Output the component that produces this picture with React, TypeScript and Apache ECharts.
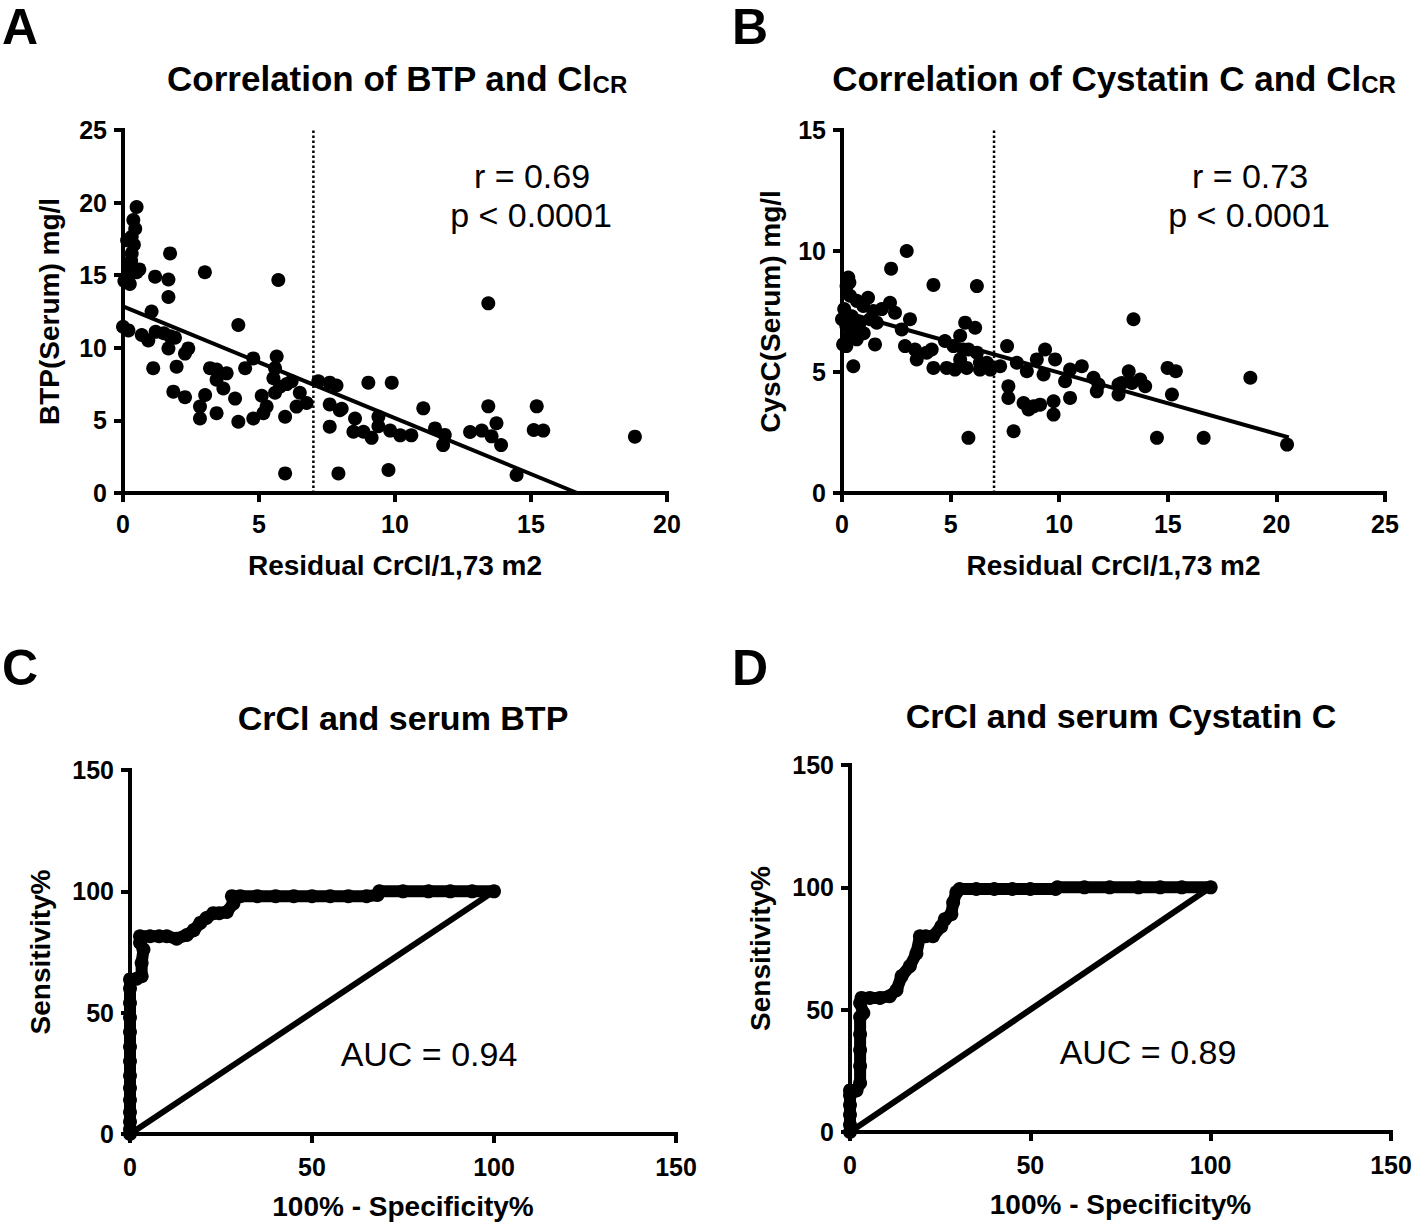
import React, { useEffect, useRef } from "react";
import * as echarts from "echarts";

const FONT = "'Liberation Sans', Arial, Helvetica, sans-serif";
const NARROW = "'Liberation Sans Narrow', 'Liberation Sans', Arial, sans-serif";

// Panel A: BTP (serum) vs residual CrCl
const btpPoints: number[][] = [
  [0.5, 19.7], [0.38, 18.8], [0.45, 18.2], [0.32, 17.65], [0.4, 17.1], [0.32, 16.5], [0.3, 16.0],
  [0.28, 15.6], [0.5, 15.2], [0.2, 15.0], [0.25, 14.4], [0.05, 14.6], [0.6, 15.4], [0.15, 17.4],
  [0.0, 11.45], [0.2, 11.2],
  [1.73, 16.5], [3.01, 15.2], [5.71, 14.67], [1.18, 14.9], [1.67, 14.7], [1.67, 13.5], [1.05, 12.5],
  [4.24, 11.57], [0.69, 10.88], [0.93, 10.5], [1.2, 11.1], [1.5, 11.0], [1.73, 10.8], [1.91, 10.7],
  [1.67, 9.96], [2.4, 9.96], [2.28, 9.6], [1.11, 8.6], [1.97, 8.7], [3.2, 8.6], [3.44, 8.5],
  [3.81, 8.24], [3.44, 7.8], [3.69, 7.2], [1.85, 6.98], [2.28, 6.6], [3.02, 6.75], [4.12, 6.5],
  [2.83, 5.95], [2.83, 5.13], [3.44, 5.5], [4.24, 4.91], [4.49, 8.6], [4.79, 9.27], [4.79, 5.13],
  [5.16, 5.5], [5.1, 6.7], [5.28, 5.95], [5.65, 9.4], [5.59, 8.6], [5.53, 7.9], [5.77, 7.32],
  [6.02, 7.5], [6.2, 7.7], [5.59, 6.9], [5.96, 5.25], [6.38, 5.95], [6.5, 6.9], [6.75, 6.2],
  [5.96, 1.35], [7.18, 7.7], [7.6, 7.6], [7.85, 7.4], [7.6, 6.1], [7.6, 4.57], [8.04, 5.8],
  [7.97, 5.7], [7.92, 1.35], [9.02, 7.6], [9.88, 7.6], [8.53, 5.13], [8.47, 4.22], [8.84, 4.22],
  [9.14, 3.8], [9.39, 5.25], [9.39, 4.6], [9.82, 4.3], [9.76, 1.58], [10.19, 3.97], [10.6, 3.97],
  [11.04, 5.83], [11.47, 4.45], [11.83, 4.0], [11.77, 3.3], [12.76, 4.2], [13.19, 4.3], [13.55, 3.9],
  [13.9, 3.3], [14.47, 1.24], [13.43, 13.06], [13.43, 5.97], [13.73, 4.8], [15.21, 5.97], [15.1, 4.34],
  [15.45, 4.3], [18.82, 3.88],
];
const btpFit: number[][] = [[0, 12.85], [16.7, 0]];

// Panel B: Cystatin C (serum) vs residual CrCl
const cysPoints: number[][] = [
  [2.98, 10.0], [2.26, 9.27], [4.21, 8.6], [6.21, 8.55], [0.29, 8.9], [0.21, 8.55], [0.34, 8.7],
  [1.2, 8.07], [2.21, 7.86], [2.44, 7.45], [0.68, 7.94], [0.37, 8.15], [0.98, 7.73], [1.44, 7.52],
  [1.83, 7.6], [3.13, 7.18], [0.0, 7.18], [0.2, 6.9], [0.52, 6.62], [0.68, 6.35], [0.05, 6.14],
  [0.2, 6.07], [1.52, 6.14], [0.52, 5.24], [1.29, 7.18], [1.6, 7.04], [0.1, 7.6], [0.45, 7.3],
  [0.8, 7.0], [1.0, 6.6], [0.3, 6.4], [2.75, 6.76], [2.9, 6.07], [3.36, 5.93], [3.44, 5.52],
  [3.9, 5.8], [4.13, 5.93], [4.21, 5.17], [4.82, 5.17], [5.2, 5.1], [4.74, 6.28], [5.13, 6.07],
  [5.44, 6.5], [5.67, 7.04], [6.13, 6.83], [5.59, 5.93], [5.44, 5.52], [5.82, 5.93], [5.74, 5.17],
  [6.35, 5.1], [6.35, 5.38], [6.21, 5.8], [6.67, 5.38], [6.83, 5.1], [5.82, 2.28], [7.28, 5.24],
  [7.6, 6.07], [7.66, 4.41], [7.66, 3.93], [7.9, 2.55], [8.05, 5.38], [8.51, 5.03], [8.36, 3.72],
  [8.59, 3.45], [8.82, 3.58], [9.12, 3.65], [8.97, 5.52], [9.35, 5.93], [9.81, 5.52], [9.28, 4.9],
  [9.74, 3.79], [9.74, 3.24], [10.27, 4.62], [10.5, 3.93], [10.5, 5.1], [11.04, 5.24], [11.58, 4.76],
  [11.81, 4.48], [11.73, 4.2], [12.73, 4.48], [12.73, 4.07], [13.42, 7.18], [13.2, 5.03], [12.89, 4.55],
  [13.35, 4.55], [13.73, 4.69], [13.96, 4.41], [14.99, 5.17], [15.37, 5.03], [15.19, 4.07], [14.5, 2.28],
  [16.65, 2.28], [18.8, 4.76], [20.49, 2.0],
];
const cysFit: number[][] = [[0, 7.5], [20.57, 2.3]];

const cutoffCrCl = 7;

// Panel C: ROC, CrCl and serum BTP
const rocBtp: number[][] = [
  [0, 0], [0, 2], [0, 5], [0, 9], [0, 14], [0, 19], [0, 24], [0, 30], [0, 36], [0, 42], [0, 48],
  [0, 54], [0, 60], [0, 63.7], [1.8, 64], [3.2, 65], [3.2, 70.5], [3.7, 76], [2.75, 78.8], [2.75, 81.5],
  [5.5, 81.5], [8, 81.5], [10.1, 81.5], [12.8, 80.5], [15.6, 82], [17.5, 84], [19.3, 87], [21, 89],
  [22.9, 91], [24.5, 91], [26.6, 91.5], [28.4, 95], [28, 98], [30.3, 98], [35, 98], [40, 98], [45, 98],
  [50, 98], [55, 98], [60, 98], [65, 98], [68, 98.5], [68.5, 100], [75, 100], [82, 100], [88, 100],
  [94, 100], [100, 100],
];

// Panel D: ROC, CrCl and serum Cystatin C
const rocCys: number[][] = [
  [0, 0], [0, 3], [0, 7], [0, 11], [0, 15], [0, 17], [1.8, 17], [2.8, 20], [2.8, 27], [2.8, 33.5],
  [2.8, 40], [2.8, 47], [3.7, 48.6], [2.8, 52.7], [3.2, 54.8], [5.5, 54.8], [8.3, 54.8], [11, 55.5],
  [12.9, 58], [14.3, 63.7], [16.6, 67.8], [18.4, 73], [19.4, 80], [21, 80], [23, 80], [25.3, 84],
  [26.3, 87], [28.1, 89], [28.6, 93.8], [29.5, 98], [30.4, 99.3], [35, 99.3], [40, 99.3], [45, 99.3],
  [50, 99.3], [57, 99.3], [57.5, 100], [65, 100], [72, 100], [80, 100], [86, 100], [92, 100], [100, 100],
];
const diagonal: number[][] = [[0, 0], [100, 100]];

const scatterXTicks = { A: [0, 20, 5], B: [0, 25, 5] };
const scatterYTicks = { A: [0, 25, 5], B: [0, 15, 5] };
const rocTicks = [0, 150, 50];

const labelsText = {
  A: "A", B: "B", C: "C", D: "D",
  crclAxis: "Residual CrCl/1,73 m2",
  btpAxis: "BTP(Serum) mg/l",
  cysAxis: "CysC(Serum) mg/l",
  sensAxis: "Sensitivity%",
  specAxis: "100% - Specificity%",
};

const axisBase = (gridIndex: number, range: number[], name: string, nameGap: number, margin: number, isY: boolean) => ({
  gridIndex,
  type: "value",
  min: range[0],
  max: range[1],
  interval: range[2],
  name,
  nameLocation: "middle",
  nameGap,
  nameTextStyle: { color: "#000", fontSize: 28, fontWeight: "bold", fontFamily: FONT },
  axisLine: { show: true, onZero: false, lineStyle: { color: "#000", width: 4, cap: "square" } },
  axisTick: { show: true, length: 9, lineStyle: { color: "#000", width: 4 } },
  axisLabel: { color: "#000", fontSize: 25, fontWeight: "bold", fontFamily: FONT, margin },
  splitLine: { show: false },
  nameRotate: isY ? 90 : 0,
});

export default function App() {
  const ref = useRef<HTMLDivElement>(null);
  useEffect(() => {
    document.body.style.margin = "0";
    const chart = echarts.init(ref.current!, null, { renderer: "svg" });
    const black = "#000";
    const txt = (x: number, y: number, text: string, size: number, weight: string, align: string, family = FONT) => ({
      type: "text",
      x,
      y,
      style: { text, fill: black, fontSize: size, fontWeight: weight, fontFamily: family, textAlign: align, textVerticalAlign: "middle" },
    });
    const richTitle = (x: number, y: number, main: string) => ({
      type: "text",
      x,
      y,
      style: {
        text: `{a|${main}}{b|CR}`,
        fill: black,
        textAlign: "center",
        textVerticalAlign: "middle",
        rich: {
          a: { fontSize: 35, fontWeight: "bold", fontFamily: FONT, fill: black, lineHeight: 40, verticalAlign: "bottom" },
          b: { fontSize: 24, fontWeight: "bold", fontFamily: FONT, fill: black, lineHeight: 33, verticalAlign: "bottom" },
        },
      },
    });

    const option: any = {
      animation: false,
      backgroundColor: "#fff",
      grid: [
        { left: 123, top: 130, width: 544, height: 363 },
        { left: 842, top: 130, width: 543, height: 363 },
        { left: 130, top: 770, width: 546, height: 364 },
        { left: 850, top: 765, width: 541, height: 367 },
      ],
      xAxis: [
        axisBase(0, scatterXTicks.A, labelsText.crclAxis, 58, 18, false),
        axisBase(1, scatterXTicks.B, labelsText.crclAxis, 58, 18, false),
        axisBase(2, rocTicks, labelsText.specAxis, 58, 20, false),
        axisBase(3, rocTicks, labelsText.specAxis, 58, 20, false),
      ],
      yAxis: [
        axisBase(0, scatterYTicks.A, labelsText.btpAxis, 60, 16, true),
        axisBase(1, scatterYTicks.B, labelsText.cysAxis, 58, 16, true),
        axisBase(2, rocTicks, labelsText.sensAxis, 76, 16, true),
        axisBase(3, rocTicks, labelsText.sensAxis, 76, 16, true),
      ],
      series: [
        {
          type: "line", xAxisIndex: 0, yAxisIndex: 0, showSymbol: false,
          data: [[cutoffCrCl, scatterYTicks.A[0]], [cutoffCrCl, scatterYTicks.A[1]]],
          lineStyle: { color: black, width: 2.5, type: [2.5, 2.5] },
        },
        {
          type: "line", xAxisIndex: 0, yAxisIndex: 0, showSymbol: false, data: btpFit,
          lineStyle: { color: black, width: 4 },
        },
        {
          type: "scatter", xAxisIndex: 0, yAxisIndex: 0, data: btpPoints, symbolSize: 14,
          itemStyle: { color: black, opacity: 1 },
        },
        {
          type: "line", xAxisIndex: 1, yAxisIndex: 1, showSymbol: false,
          data: [[cutoffCrCl, scatterYTicks.B[0]], [cutoffCrCl, scatterYTicks.B[1]]],
          lineStyle: { color: black, width: 2.5, type: [2.5, 2.5] },
        },
        {
          type: "line", xAxisIndex: 1, yAxisIndex: 1, showSymbol: false, data: cysFit,
          lineStyle: { color: black, width: 4 },
        },
        {
          type: "scatter", xAxisIndex: 1, yAxisIndex: 1, data: cysPoints, symbolSize: 14,
          itemStyle: { color: black, opacity: 1 },
        },
        {
          type: "line", xAxisIndex: 2, yAxisIndex: 2, showSymbol: false, data: diagonal,
          lineStyle: { color: black, width: 6 },
        },
        {
          type: "line", xAxisIndex: 2, yAxisIndex: 2, data: rocBtp, symbol: "circle", symbolSize: 14,
          showAllSymbol: true, clip: false,
          lineStyle: { color: black, width: 12, join: "round", cap: "round" }, itemStyle: { color: black, opacity: 1 },
        },
        {
          type: "line", xAxisIndex: 3, yAxisIndex: 3, showSymbol: false, data: diagonal,
          lineStyle: { color: black, width: 6 },
        },
        {
          type: "line", xAxisIndex: 3, yAxisIndex: 3, data: rocCys, symbol: "circle", symbolSize: 14,
          showAllSymbol: true, clip: false,
          lineStyle: { color: black, width: 12, join: "round", cap: "round" }, itemStyle: { color: black, opacity: 1 },
        },
      ],
      graphic: [
        txt(2, 27, labelsText.A, 50, "bold", "left", NARROW),
        txt(732, 27, labelsText.B, 50, "bold", "left", NARROW),
        txt(2, 668, labelsText.C, 50, "bold", "left", NARROW),
        txt(732, 668, labelsText.D, 50, "bold", "left", NARROW),
        richTitle(397, 76, "Correlation of BTP and Cl"),
        richTitle(1114, 76, "Correlation of Cystatin C and Cl"),
        txt(403, 718, "CrCl and serum BTP", 34, "bold", "center"),
        txt(1121, 716, "CrCl and serum Cystatin C", 34, "bold", "center"),
        txt(532, 176, "r = 0.69", 34, "normal", "center"),
        txt(531, 215, "p < 0.0001", 34, "normal", "center"),
        txt(1250, 176, "r = 0.73", 34, "normal", "center"),
        txt(1249, 215, "p < 0.0001", 34, "normal", "center"),
        txt(429, 1054, "AUC = 0.94", 34, "normal", "center"),
        txt(1148, 1052, "AUC = 0.89", 34, "normal", "center"),
      ],
    };
    chart.setOption(option);
    return () => chart.dispose();
  }, []);
  return <div ref={ref} style={{ width: 1418, height: 1229 }} />;
}
